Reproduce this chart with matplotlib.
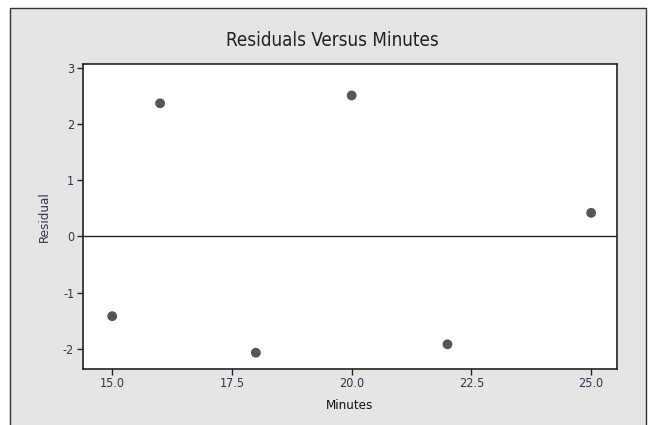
import matplotlib
matplotlib.use("Agg")
import matplotlib.pyplot as plt
from matplotlib.patches import Rectangle

minutes = [15, 16, 18, 20, 22, 25]
residuals = [-1.42, 2.37, -2.07, 2.51, -1.92, 0.42]
xticks = [15.0, 17.5, 20.0, 22.5, 25.0]
xtick_labels = ["15.0", "17.5", "20.0", "22.5", "25.0"]
yticks = [-2, -1, 0, 1, 2, 3]

plt.rcParams['font.family'] = ['DejaVu Sans']
plt.rcParams['axes.unicode_minus'] = False
text_color = '#2e3548'

fig = plt.figure(figsize=(6.52, 4.25), dpi=100)
fig.patch.set_facecolor('white')
bg = Rectangle((10/652, -0.05), (646-10)/652, 1 - 8/425 + 0.05,
               transform=fig.transFigure, facecolor='#e5e5e5',
               edgecolor='#333333', linewidth=1.0, zorder=-5)
fig.patches.append(bg)

ax = fig.add_axes([82.5/652, 1-369/425, (617-82.5)/652, (369-64)/425])
ax.set_zorder(2)
ax.set_facecolor('white')
ax.scatter(minutes, residuals, s=50, color='#555555', zorder=3, edgecolors='none')
ax.axhline(0, color='#222222', linewidth=1.0, zorder=2)
ax.set_xlim(14.38, 25.54)
ax.set_ylim(-2.36, 3.07)
ax.set_xticks(xticks)
ax.set_xticklabels(xtick_labels)
ax.set_yticks(yticks)
for s in ax.spines.values():
    s.set_color('#222222')
    s.set_linewidth(1.2)
ax.tick_params(direction='out', length=4, width=1, color='#222222',
               labelsize=9, labelcolor=text_color, pad=2)
for lab in ax.get_xticklabels() + ax.get_yticklabels():
    lab.set_fontstretch('condensed')
ax.set_xlabel('Minutes', fontsize=9.5, color='#111111', labelpad=6, fontstretch='condensed')
ax.set_ylabel('Residual', fontsize=9.5, color=text_color, labelpad=9, fontstretch='condensed')
fig.text(332/652, 1-40/425, 'Residuals Versus Minutes', ha='center', va='center',
         fontsize=13.5, color='#222222', fontstretch='condensed')

fig.savefig('out.png', dpi=100)
